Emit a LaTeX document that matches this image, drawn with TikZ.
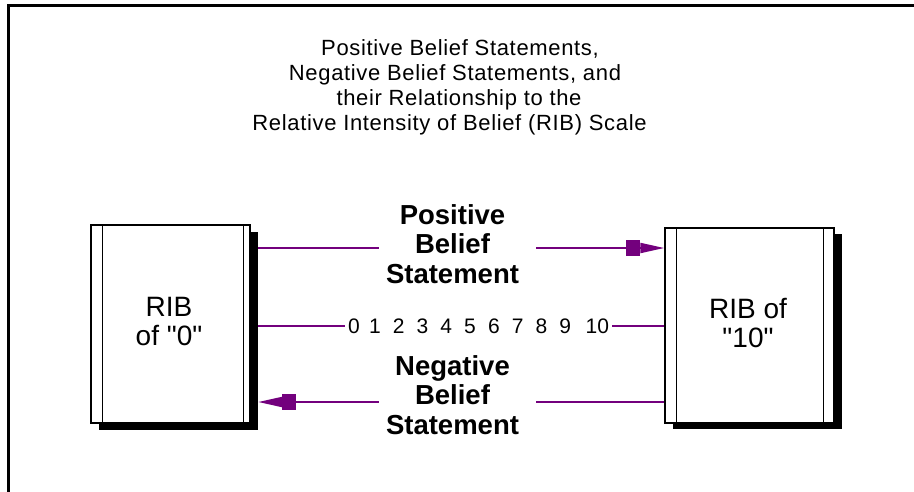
\documentclass[tikz,border=0pt]{standalone}
\usepackage{fontspec}
\setmainfont{Liberation Sans}
\usetikzlibrary{arrows.meta}
\definecolor{vio}{RGB}{115,0,125}
\begin{document}
\begin{tikzpicture}[x=1pt,y=-1pt,
  frameline/.style={line width=3.3pt,line cap=rect},
  ribbox/.style={draw=black,line width=1.4pt,fill=white,inner sep=0pt},
  ribshadow/.style={fill=black,inner sep=0pt},
  ribtext/.style={align=center,inner sep=0pt,font=\fontsize{28}{29}\selectfont},
  conn/.style={draw=vio,line width=2pt},
  headed/.style={-{Rectangle[length=14pt,width=16pt] Triangle[length=24pt,width=10pt]}},
  blabel/.style={align=center,inner sep=0pt,font=\bfseries\fontsize{27.5}{29.5}\selectfont},
  ttl/.style={anchor=base,inner sep=0pt,font=\addfontfeature{LetterSpace=3}\fontsize{22}{25}\selectfont},
  innerline/.style={draw=black,line width=1.4pt}
]
\useasboundingbox (0,0) rectangle (914,491);
% frame
\draw[frameline] (8.8,491) -- (8.8,5.7) -- (914,5.7);
% title
\node[ttl] (t1) at (460,55) {Positive Belief Statements,};
\node[ttl] (t2) at (455,80) {Negative Belief Statements, and};
\node[ttl] (t3) at (459,105) {their Relationship to the};
\node[ttl] (t4) at (449.5,130) {Relative Intensity of Belief (RIB) Scale};
% left box
\node[ribshadow,minimum width=159pt,minimum height=198pt] (shL) at (178.5,331) {};
\node[ribbox,minimum width=159pt,minimum height=198pt] (boxL) at (170.5,324) {};
\draw[innerline] ([xshift=12pt]boxL.north west) -- ([xshift=12pt]boxL.south west);
\draw[innerline] ([xshift=-7pt]boxL.north east) -- ([xshift=-7pt]boxL.south east);
\node[ribtext] (txtL) at (169,321) {RIB\\of \textquotedbl 0\textquotedbl};
% right box
\node[ribshadow,minimum width=169pt,minimum height=195pt] (shR) at (757.5,331.5) {};
\node[ribbox,minimum width=169pt,minimum height=195pt] (boxR) at (749.5,325.5) {};
\draw[innerline] ([xshift=12pt]boxR.north west) -- ([xshift=12pt]boxR.south west);
\draw[innerline] ([xshift=-11pt]boxR.north east) -- ([xshift=-11pt]boxR.south east);
\node[ribtext] (txtR) at (748,322.7) {RIB of\\\textquotedbl 10\textquotedbl};
% labels
\node[blabel] (pos) at (452.5,244) {Positive\\Belief\\Statement};
\node[blabel] (neg) at (452.5,395) {Negative\\Belief\\Statement};
\coordinate (yP) at (0,248);
\coordinate (yN) at (0,402);
% scale
\node[inner sep=0pt,font=\fontsize{21}{21}\selectfont] (scale) at (478.5,325.8)
  {\makebox[18pt]{0}\makebox[23.8pt]{1}\makebox[23.8pt]{2}\makebox[23.8pt]{3}\makebox[23.8pt]{4}\makebox[23.8pt]{5}\makebox[23.8pt]{6}\makebox[23.8pt]{7}\makebox[23.8pt]{8}\makebox[23.8pt]{9}\makebox[34.8pt][r]{10\hspace{3pt}}};
% connectors
\draw[conn] (shL.east |- yP) -- ([xshift=-7pt]pos.west |- yP);
\draw[conn,headed] ([xshift=17pt]pos.east |- yP) -- (boxR.west |- yP);
\draw[conn] (shL.east |- scale) -- (scale.west);
\draw[conn] (scale.east) -- (boxR.west |- scale);
\draw[conn] (boxR.west |- yN) -- ([xshift=17pt]neg.east |- yN);
\draw[conn,headed] ([xshift=-7pt]neg.west |- yN) -- (shL.east |- yN);
\end{tikzpicture}
\end{document}
